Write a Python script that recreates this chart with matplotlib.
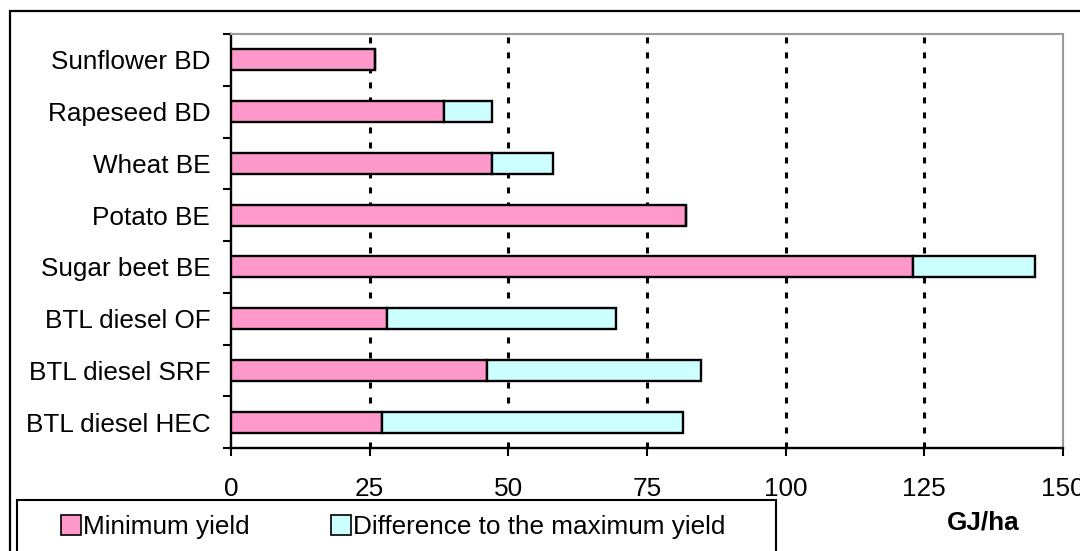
import matplotlib
matplotlib.use('Agg')
import matplotlib.pyplot as plt
from matplotlib.patches import Rectangle, Patch

plt.rcParams['font.family'] = ['Liberation Sans', 'DejaVu Sans']

crops = ['Sunflower BD', 'Rapeseed BD', 'Wheat BE', 'Potato BE', 'Sugar beet BE',
         'BTL diesel OF', 'BTL diesel SRF', 'BTL diesel HEC']
min_yield = [26, 38.4, 47, 82, 123, 28.2, 46.1, 27.2]
diff_to_max = [0, 8.6, 11, 0, 22, 41.3, 38.6, 54.3]
xticks = [0, 25, 50, 75, 100, 125, 150]

PINK = '#FF99CC'
CYAN = '#CCFFFF'
FS = 18.8

W, H = 1080, 551
fig = plt.figure(figsize=(W / 100, H / 100), dpi=100)
ax = fig.add_axes([231 / W, 1 - 448 / H, (1063 - 231) / W, (448 - 34) / H])

ypos = list(range(len(crops)))
ax.barh(ypos, min_yield, height=0.41, color=PINK, edgecolor='black', linewidth=1.7, zorder=3)
ax.barh(ypos, diff_to_max, left=min_yield, height=0.41, color=CYAN,
        edgecolor='black', linewidth=1.7, zorder=3)

ax.set_xlim(0, 150)
ax.set_ylim(len(crops) - 0.5, -0.5)

# dotted vertical gridlines
for x in xticks[1:-1]:
    ax.axvline(x, color='black', linewidth=2.2, linestyle=(0, (1.96, 2.95)), zorder=1)

ax.set_xticks(xticks)
ax.set_xticklabels([str(v) for v in xticks], fontsize=FS)
ax.tick_params(axis='x', direction='out', length=6, width=1.5, pad=15)

ax.set_yticks(ypos)
ax.set_yticklabels(crops, fontsize=FS)
ax.set_yticks([i - 0.5 for i in range(len(crops) + 1)], minor=True)
ax.tick_params(axis='y', which='major', length=0, pad=15)
ax.tick_params(axis='y', which='minor', direction='out', length=6, width=1.5)

for side in ['left', 'bottom']:
    ax.spines[side].set_linewidth(1.7)
    ax.spines[side].set_color('black')
for side in ['top', 'right']:
    ax.spines[side].set_linewidth(1.5)
    ax.spines[side].set_color('#999999')

# outer frame of the whole chart
fig.patches.append(Rectangle((10 / W, -0.1), 1.2, 1 - 11 / H + 0.1, transform=fig.transFigure,
                             fill=False, edgecolor='black', linewidth=1.6))
# legend frame
fig.patches.append(Rectangle((17 / W, -0.1), (776 - 17) / W, 1 - 500 / H + 0.1,
                             transform=fig.transFigure, fill=False,
                             edgecolor='black', linewidth=1.5))

handles = [Patch(facecolor=PINK, edgecolor='black', linewidth=1.2),
           Patch(facecolor=CYAN, edgecolor='black', linewidth=1.2)]
leg = fig.legend(handles, ['Minimum yield', 'Difference to the maximum yield'],
                 loc='center left', bbox_to_anchor=(61 / W, 1 - 527 / H), ncol=2,
                 fontsize=FS, frameon=False,
                 handlelength=0.76, handleheight=0.76, handletextpad=0.1,
                 columnspacing=3.1, borderpad=0, borderaxespad=0)

fig.text(983 / W, 1 - 523 / H, 'GJ/ha', fontsize=FS, fontweight='bold',
         ha='center', va='center')

plt.savefig('out.png', dpi=100)
